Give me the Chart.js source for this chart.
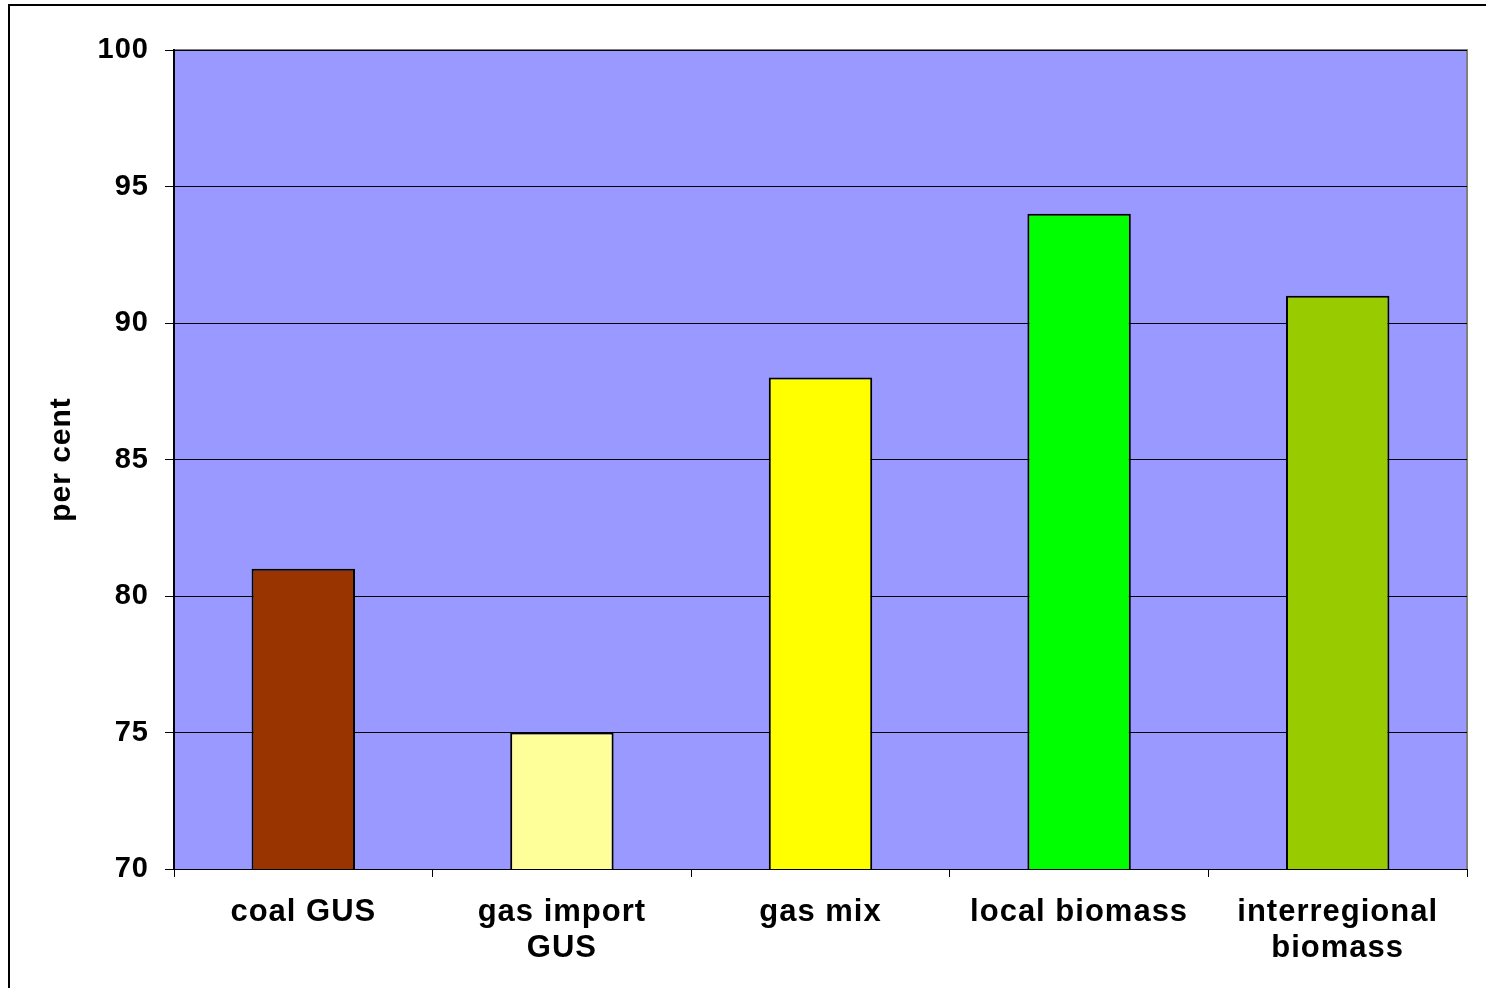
<!DOCTYPE html>
<html>
<head>
<meta charset="utf-8">
<script src="https://cdn.jsdelivr.net/npm/chart.js@4/dist/chart.umd.min.js"></script>
<style>
  html, body { margin: 0; padding: 0; background: #fff; }
  #wrap { width: 1486px; height: 988px; }
</style>
</head>
<body>
<div id="wrap"><canvas id="chart"></canvas></div>
<script>
const categories = ['coal GUS', ['gas import', 'GUS'], 'gas mix', 'local biomass', ['interregional', 'biomass']];
const shares = [81, 75, 88, 94, 91];
const barColors = ['#993300', '#FFFF99', '#FFFF00', '#00FF00', '#99CC00'];
const yTicks = [70, 75, 80, 85, 90, 95, 100];

const frame = {
  id: 'frame',
  beforeDraw(chart) {
    const ctx = chart.ctx;
    const a = chart.chartArea;
    ctx.save();
    ctx.fillStyle = '#fff';
    ctx.fillRect(0, 0, chart.width, chart.height);
    ctx.strokeStyle = '#000';
    ctx.lineWidth = 2;
    ctx.strokeRect(9, 5, 1500, 1000);
    ctx.fillStyle = '#9999FF';
    ctx.fillRect(a.left, a.top, a.right - a.left, a.bottom - a.top);
    ctx.strokeStyle = '#808080';
    ctx.lineWidth = 2;
    ctx.beginPath();
    ctx.moveTo(a.left, a.top);
    ctx.lineTo(a.right, a.top);
    ctx.lineTo(a.right, a.bottom);
    ctx.stroke();
    ctx.restore();
    ctx.letterSpacing = '1px';
  }
};

new Chart(document.getElementById('chart'), {
  type: 'bar',
  data: {
    labels: categories,
    datasets: [{
      data: shares,
      backgroundColor: barColors,
      borderColor: '#000',
      borderWidth: 2,
      borderSkipped: false,
      barPercentage: 0.4,
      categoryPercentage: 1
    }]
  },
  options: {
    responsive: true,
    maintainAspectRatio: false,
    animation: false,
    layout: { padding: { top: 50, right: 19, left: 0, bottom: 0 } },
    plugins: { legend: { display: false }, tooltip: { enabled: false } },
    scales: {
      x: {
        grid: { drawOnChartArea: false, drawTicks: true, tickLength: 8, color: '#000' },
        border: { color: '#000', width: 1 },
        ticks: {
          color: '#000',
          font: { family: 'Liberation Sans, Arial', size: 31, weight: 'bold', lineHeight: 1.15 },
          padding: 18,
          maxRotation: 0,
          autoSkip: false
        },
        afterFit(scale) { scale.height = 119; }
      },
      y: {
        min: yTicks[0],
        max: yTicks[yTicks.length - 1],
        afterBuildTicks(scale) { scale.ticks = yTicks.map(v => ({ value: v })); },
        grid: { color: '#000', lineWidth: 1, tickLength: 9, drawTicks: true },
        border: { color: '#000', width: 2 },
        ticks: {
          color: '#000',
          font: { family: 'Liberation Sans, Arial', size: 29, weight: 'bold' },
          padding: 16
        },
        title: {
          display: true,
          text: 'per cent',
          color: '#000',
          font: { family: 'Liberation Sans, Arial', size: 30, weight: 'bold' },
          padding: { top: 44, bottom: 0 }
        },
        afterFit(scale) { scale.width = 174; }
      }
    }
  },
  plugins: [frame]
});
</script>
</body>
</html>
